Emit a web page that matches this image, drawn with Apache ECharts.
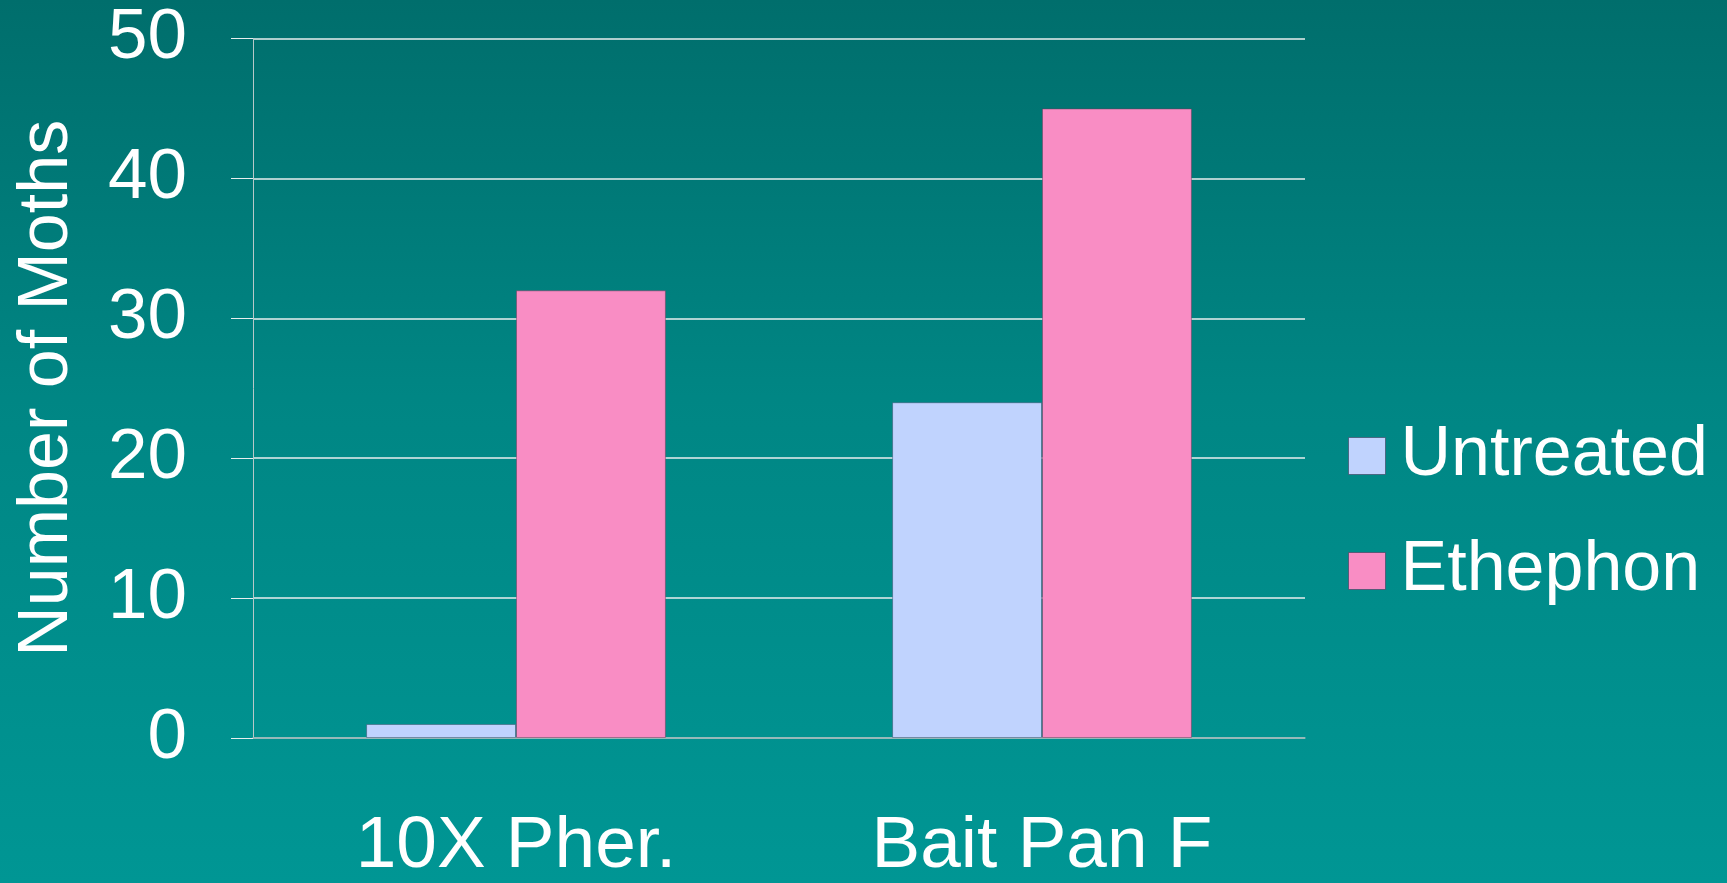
<!DOCTYPE html>
<html lang="en">
<head>
  <meta charset="UTF-8">
  <title>Number of Moths</title>
  <script src="https://cdn.jsdelivr.net/npm/echarts@6/dist/echarts.min.js"></script>
  <style>
    html, body { margin: 0; padding: 0; }
    body { background: linear-gradient(to bottom, #006e6c 0%, #008684 45%, #009694 100%); }
    #chart { width: 1727px; height: 883px; }
  </style>
</head>
<body>
  <div id="chart"></div>
  <script>
    // data
    var categories = ['10X Pher.', 'Bait Pan F']
    var untreated = [1, 24]
    var ethephon = [32, 45]
    var yTicks = [0, 10, 20, 30, 40, 50]

    var font = '"Liberation Sans", Arial, sans-serif'
    var mCharts = echarts.init(document.getElementById('chart'))

    var option = {
      backgroundColor: 'transparent',
      animation: false,
      textStyle: { fontFamily: font },
      grid: { left: 253, right: 422, top: 38.5, bottom: 141.5 },
      legend: {
        orient: 'vertical',
        left: 1343,
        top: 416,
        itemWidth: 37,
        itemHeight: 37,
        itemGap: 45,
        icon: 'rect',
        itemStyle: { borderColor: 'rgba(60,60,90,0.6)', borderWidth: 1 },
        textStyle: { color: '#fff', fontSize: 70, fontFamily: font, padding: [0, 0, 0, 10] },
        data: ['Untreated', 'Ethephon']
      },
      xAxis: {
        type: 'category',
        data: categories,
        axisLine: { lineStyle: { color: '#8fb0b0', width: 1.5 } },
        axisTick: { length: 22, lineStyle: { color: '#c8d4d4' } },
        axisLabel: { color: '#fff', fontSize: 73, fontFamily: font, margin: 72 }
      },
      yAxis: {
        type: 'value',
        min: yTicks[0],
        max: yTicks[yTicks.length - 1],
        interval: 10,
        name: 'Number of Moths',
        nameLocation: 'middle',
        nameGap: 170,
        nameTextStyle: { color: '#fff', fontSize: 70, fontFamily: font },
        axisLine: { show: true, lineStyle: { color: '#b8c8c8' } },
        axisTick: { show: true, length: 22, lineStyle: { color: '#e8eeee' } },
        axisLabel: { color: '#fff', fontSize: 71, fontFamily: font, margin: 66 },
        splitLine: { lineStyle: { color: '#e8eeee', width: 1.5 } }
      },
      series: [
        {
          name: 'Untreated',
          type: 'bar',
          data: untreated,
          barGap: '0%',
          barCategoryGap: '43%',
          itemStyle: { color: '#c0d3fe', borderColor: 'rgba(60,80,110,0.5)', borderWidth: 1 }
        },
        {
          name: 'Ethephon',
          type: 'bar',
          data: ethephon,
          barGap: '0%',
          barCategoryGap: '43%',
          itemStyle: { color: '#f98dc4', borderColor: 'rgba(110,60,90,0.5)', borderWidth: 1 }
        }
      ]
    }
    mCharts.setOption(option)
  </script>
</body>
</html>
